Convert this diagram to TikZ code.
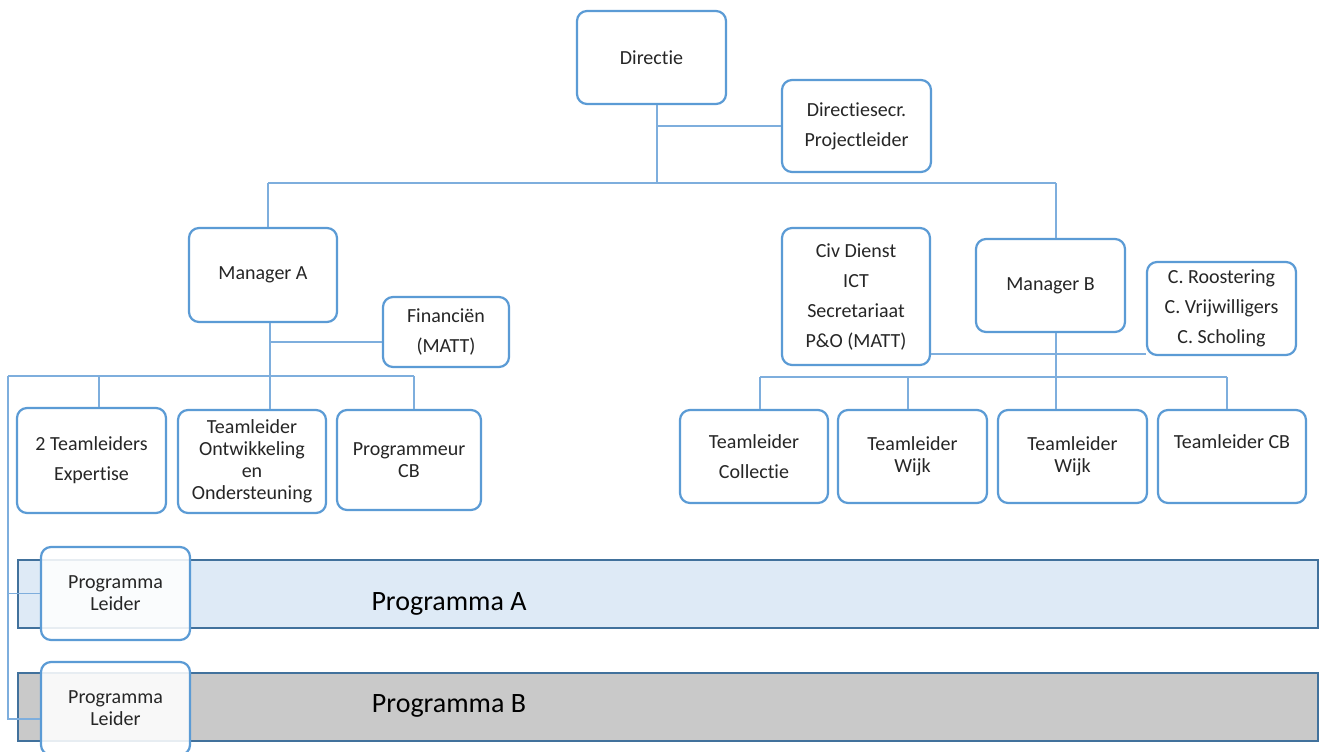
\documentclass[tikz,border=0pt]{standalone}
\usepackage{fontspec}
\setmainfont[RawFeature=-liga]{Carlito}
\usepackage{xcolor}
\definecolor{boxblue}{HTML}{5B9BD5}
\definecolor{linkblue}{HTML}{7EAEDD}
\definecolor{bandedge}{HTML}{41719C}
\definecolor{bandA}{HTML}{DEEAF6}
\definecolor{bandB}{HTML}{C9C9C9}
\definecolor{txt}{HTML}{262626}
\tikzset{
  box/.style={draw=boxblue, line width=1.1pt, rounded corners=5pt, fill=white,
    align=center, inner sep=0pt, text=txt, font=\fontsize{10}{12}\selectfont},
  wide/.style={font=\fontsize{10}{15}\selectfont},
  tight/.style={font=\fontsize{10}{11}\selectfont},
  link/.style={draw=linkblue, line width=0.6pt},
  band/.style={draw=bandedge, line width=0.9pt}
}
\begin{document}
\begin{tikzpicture}[x=0.5pt,y=-0.5pt]
\clip (0,0) rectangle (1322,751);
\fill[white] (0,0) rectangle (1322,751);
%top level
\node[box, minimum width=74.5pt, minimum height=46.5pt] (dir) at (651.5,57.5) {Directie};
\node[box, wide, minimum width=74.5pt, minimum height=46pt] (dsec) at (856.5,126) {Directiesecr.\\Projectleider};
%managers
\node[box, minimum width=74pt, minimum height=47pt] (mA) at (263,275) {Manager A};
\node[box, wide, minimum width=63pt, minimum height=35pt] (fin) at (446,332) {Financiën\\(MATT)};
\node[box, minimum width=74.5pt, minimum height=46.5pt] (mB) at (1050.5,285.5) {Manager B};
\node[box, wide, minimum width=74pt, minimum height=68.5pt] (civ) at (856,296.5) {Civ Dienst\\ICT\\Secretariaat\\P\&O (MATT)};
\node[box, wide, minimum width=74.5pt, minimum height=46.5pt] (ros) at (1221.5,308.5) {C. Roostering\\C. Vrijwilligers\\C. Scholing};
%teams A
\node[box, wide, minimum width=74.5pt, minimum height=52.5pt] (tl2) at (91.5,460.5) {2 Teamleiders\\Expertise};
\node[box, tight, minimum width=74pt, minimum height=51.5pt] (tlo) at (252,461.5) {Teamleider\\Ontwikkeling\\en\\Ondersteuning};
\node[box, tight, minimum width=72pt, minimum height=50pt] (prg) at (409,460) {Programmeur\\CB};
%teams B
\node[box, wide, minimum width=74pt, minimum height=46.5pt] (tlc) at (754,456.5) {Teamleider\\Collectie};
\node[box, tight, minimum width=74.5pt, minimum height=46.5pt] (tw1) at (912.5,456.5) {Teamleider\\Wijk};
\node[box, tight, minimum width=74.5pt, minimum height=46.5pt] (tw2) at (1072.5,456.5) {Teamleider\\Wijk};
\node[box, wide, minimum width=74pt, minimum height=46.5pt] (tcb) at (1232,456.5) {Teamleider CB\\~};
%bus coordinates
\coordinate (top) at (657,183);
\coordinate (hA) at (268,183);
\coordinate (hB) at (1056,183);
\coordinate (busA) at (270,376);
\coordinate (busAl) at (8,376);
\coordinate (busAr) at (414,376);
\coordinate (dropA) at (99,376);
\coordinate (sideB) at (1056,354);
\coordinate (busB) at (1056,377);
\coordinate (busBl) at (760,377);
\coordinate (busBm) at (908,377);
\coordinate (busBr) at (1227,377);
%lines directie
\draw[link] (dir.south -| top) -- (top);
\draw[link] (dsec.west) -- (dsec.west -| top);
\draw[link] (hA) -- (hB);
\draw[link] (hA) -- (mA.north -| hA);
\draw[link] (hB) -- (mB.north -| hB);
%lines manager A
\draw[link] (mA.south -| busA) -- (busA);
\draw[link] ([yshift=-5pt]fin.west) -- ([yshift=-5pt]fin.west -| busA);
\draw[link] (busAl) -- (busAr);
\draw[link] (tl2.north -| dropA) -- (dropA);
\draw[link] (tlo.north -| busA) -- (busA);
\draw[link] (prg.north -| busAr) -- (busAr);
%lines manager B
\draw[link] (mB.south -| hB) -- (tw2.north -| hB);
\draw[link] (civ.east |- sideB) -- (ros.west |- sideB);
\draw[link] (busBl) -- (busBr);
\draw[link] (tlc.north -| busBl) -- (busBl);
\draw[link] (tw1.north -| busBm) -- (busBm);
\draw[link] (tcb.north -| busBr) -- (busBr);
%programma bands
\filldraw[band, fill=bandA] (18,560) rectangle (1318,628);
\filldraw[band, fill=bandB] (18,673) rectangle (1318,741);
\node[font=\fontsize{14}{16}\selectfont, text=black] (pa) at (449,604) {Programma A};
\node[font=\fontsize{14}{16}\selectfont, text=black] (pb) at (449,706) {Programma B};
\node[box, tight, fill opacity=0.88, text opacity=1, minimum width=74.5pt, minimum height=46.5pt] (pla) at (115.5,593.5) {Programma\\Leider};
\node[box, tight, fill opacity=0.88, text opacity=1, minimum width=74.5pt, minimum height=46.5pt] (plb) at (115.5,708.5) {Programma\\Leider};
\draw[link] (busAl) |- (pla.west);
\draw[link] (busAl) |- ([yshift=-5.25pt]plb.west);
\end{tikzpicture}
\end{document}
